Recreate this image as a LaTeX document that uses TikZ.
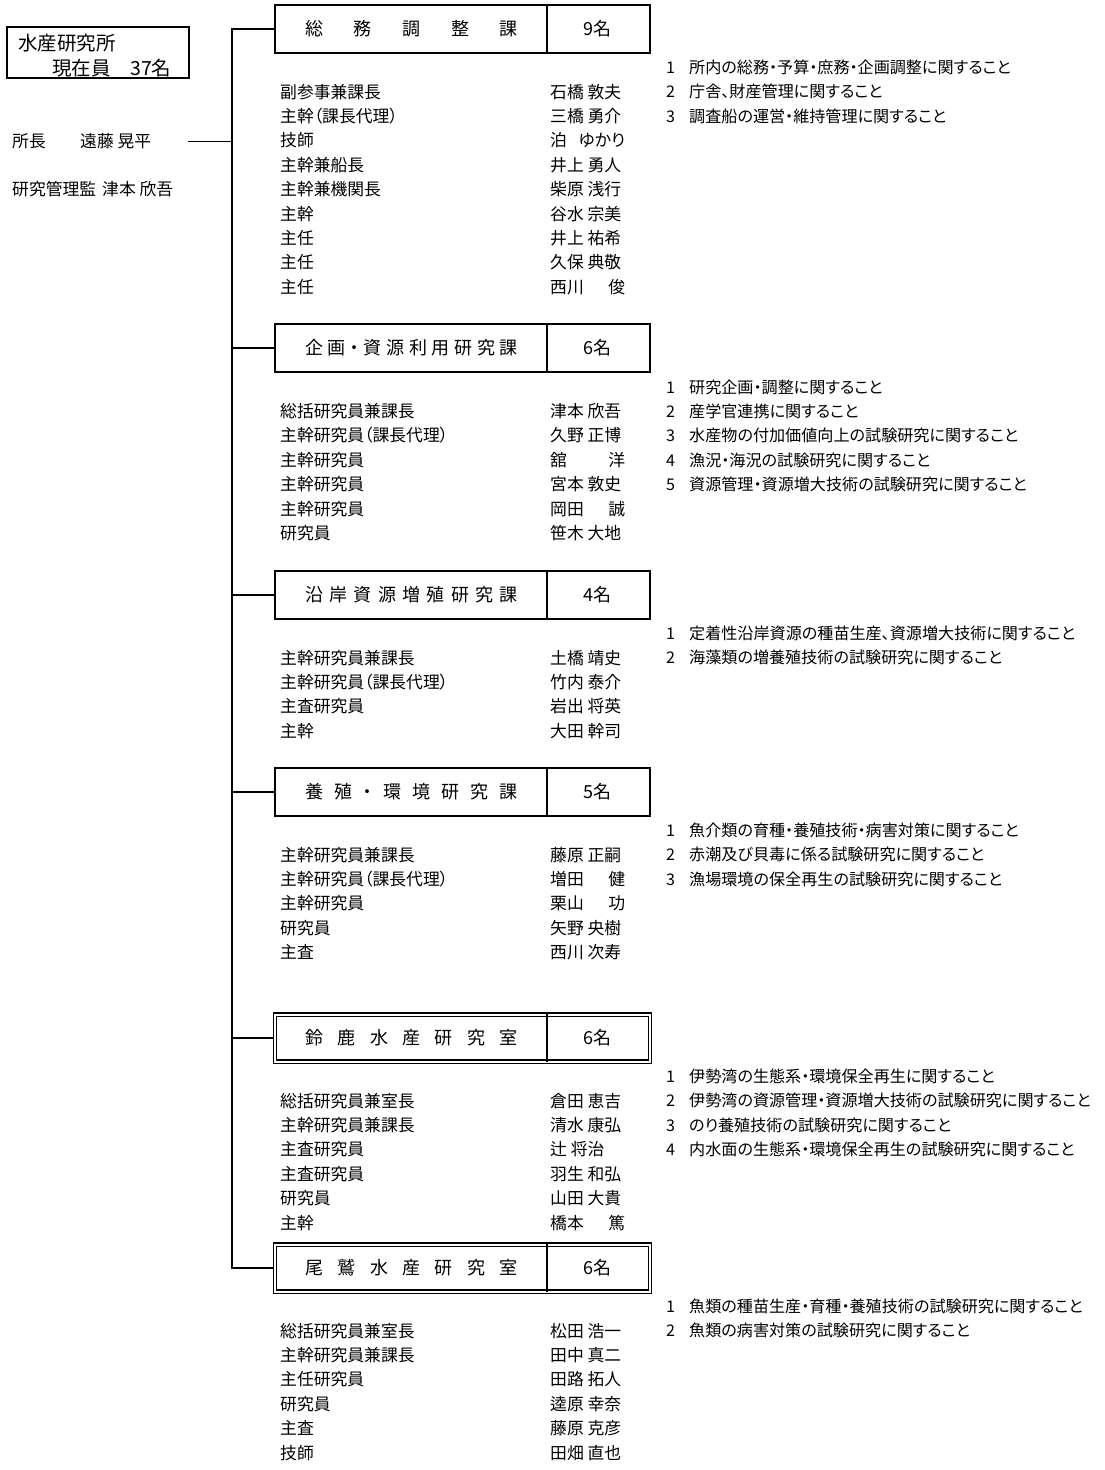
\documentclass[tikz,border=0pt]{standalone}
\usepackage{fontspec}
\setmainfont{Noto Sans CJK JP}[RawFeature={+palt}]
\usepackage{tikz}

\newcommand\rowfont{\fontsize{16.8}{20}\selectfont}
\newcommand\dutyfont{\fontsize{16.1}{20}\selectfont}
\newcommand\boxfont{\fontsize{18}{22}\selectfont}
\newcommand\labfont{\fontsize{19.5}{23}\selectfont}
\newcommand\spreadname[2]{\makebox[75pt][s]{#1\hfil #2}}

\tikzset{
  link/.style={line width=1.6pt, black},
  ticklink/.style={line width=1pt, black},
  deptbox/.style={draw, line width=1.6pt, minimum width=375pt, minimum height=48pt, inner sep=0pt},
  roombox/.style={draw, double, line width=1.4pt, double distance=2pt, minimum width=375pt, minimum height=47pt, inner sep=0pt},
  deptname/.style={inner sep=0pt, font=\boxfont},
  role/.style={anchor=west, inner sep=0pt, font=\rowfont, text height=14pt, text depth=3pt},
  who/.style={role},
  duty/.style={role, font=\dutyfont},
}

\begin{document}
\begin{tikzpicture}[x=1pt, y=-1pt]
  \useasboundingbox (0,0) rectangle (1104,1470);

  % lab and director
  \node[draw, line width=1.6pt, minimum width=182pt, minimum height=51pt] (lab) at (98,52.5) {};
  \node[anchor=west, inner sep=0pt, font=\labfont] (lab-name) at (18,43) {水産研究所};
  \node[anchor=west, inner sep=0pt, font=\labfont] (lab-staff) at (52,68) {現在員　37名};
  \node[role] (chief) at (12,141.5) {所長};
  \node[who] (chief-name) at (80,141.5) {遠藤 晃平};
  \node[role] (deputy) at (12,190) {研究管理監};
  \node[who] (deputy-name) at (102,190) {津本 欣吾};

  \coordinate (trunktop) at (232,29);
  \coordinate (trunkbot) at (232,1268);
  \coordinate (div) at (547,0);
  \coordinate (chief-tick) at (188,141.5);
  \draw[ticklink] (chief-tick) -- (chief-tick -| trunktop);

  % 総務調整課
  \node[deptbox] (soumu) at (462.5,29) {};
  \draw[link] (soumu.north -| div) -- (soumu.south -| div);
  \node[deptname] (soumu-name) at (411.5,29) {\makebox[213pt][s]{総\hfil 務\hfil 調\hfil 整\hfil 課}};
  \node[deptname] (soumu-count) at (597,29) {9名};
  \foreach \what [count=\i] in {所内の総務・予算・庶務・企画調整に関すること, 庁舎、財産管理に関すること, 調査船の運営・維持管理に関すること}
    \node[duty] (soumu-d\i) at (666,68+24.4*\i-24.4) {\makebox[23pt][l]{\i}\what};
  \foreach \role/\who [count=\i] in {副参事兼課長/石橋 敦夫, 主幹（課長代理）/三橋 勇介, 技師/\spreadname{泊}{ゆかり}, 主幹兼船長/井上 勇人, 主幹兼機関長/柴原 浅行, 主幹/谷水 宗美, 主任/井上 祐希, 主任/久保 典敬, 主任/\spreadname{西川}{俊}}
  {
    \node[role] (soumu-r\i) at (280,92.5+24.4*\i-24.4) {\role};
    \node[who] (soumu-n\i) at (550,92.5+24.4*\i-24.4) {\who};
  }

  % 企画・資源利用研究課
  \node[deptbox] (kikaku) at (462.5,348) {};
  \draw[link] (kikaku.north -| div) -- (kikaku.south -| div);
  \node[deptname] (kikaku-name) at (411.5,348) {\makebox[213pt][s]{企\hfil 画\hfil ・\hfil 資\hfil 源\hfil 利\hfil 用\hfil 研\hfil 究\hfil 課}};
  \node[deptname] (kikaku-count) at (597,348) {6名};
  \foreach \what [count=\i] in {研究企画・調整に関すること, 産学官連携に関すること, 水産物の付加価値向上の試験研究に関すること, 漁況・海況の試験研究に関すること, 資源管理・資源増大技術の試験研究に関すること}
    \node[duty] (kikaku-d\i) at (666,387.5+24.4*\i-24.4) {\makebox[23pt][l]{\i}\what};
  \foreach \role/\who [count=\i] in {総括研究員兼課長/津本 欣吾, 主幹研究員（課長代理）/久野 正博, 主幹研究員/\spreadname{舘}{洋}, 主幹研究員/宮本 敦史, 主幹研究員/\spreadname{岡田}{誠}, 研究員/笹木 大地}
  {
    \node[role] (kikaku-r\i) at (280,412+24.4*\i-24.4) {\role};
    \node[who] (kikaku-n\i) at (550,412+24.4*\i-24.4) {\who};
  }

  % 沿岸資源増殖研究課
  \node[deptbox] (engan) at (462.5,595) {};
  \draw[link] (engan.north -| div) -- (engan.south -| div);
  \node[deptname] (engan-name) at (411.5,595) {\makebox[213pt][s]{沿\hfil 岸\hfil 資\hfil 源\hfil 増\hfil 殖\hfil 研\hfil 究\hfil 課}};
  \node[deptname] (engan-count) at (597,595) {4名};
  \foreach \what [count=\i] in {定着性沿岸資源の種苗生産、資源増大技術に関すること, 海藻類の増養殖技術の試験研究に関すること}
    \node[duty] (engan-d\i) at (666,634+24.4*\i-24.4) {\makebox[23pt][l]{\i}\what};
  \foreach \role/\who [count=\i] in {主幹研究員兼課長/土橋 靖史, 主幹研究員（課長代理）/竹内 泰介, 主査研究員/岩出 将英, 主幹/大田 幹司}
  {
    \node[role] (engan-r\i) at (280,658.5+24.4*\i-24.4) {\role};
    \node[who] (engan-n\i) at (550,658.5+24.4*\i-24.4) {\who};
  }

  % 養殖・環境研究課
  \node[deptbox] (yousyoku) at (462.5,792) {};
  \draw[link] (yousyoku.north -| div) -- (yousyoku.south -| div);
  \node[deptname] (yousyoku-name) at (411.5,792) {\makebox[213pt][s]{養\hfil 殖\hfil ・\hfil 環\hfil 境\hfil 研\hfil 究\hfil 課}};
  \node[deptname] (yousyoku-count) at (597,792) {5名};
  \foreach \what [count=\i] in {魚介類の育種・養殖技術・病害対策に関すること, 赤潮及び貝毒に係る試験研究に関すること, 漁場環境の保全再生の試験研究に関すること}
    \node[duty] (yousyoku-d\i) at (666,831+24.4*\i-24.4) {\makebox[23pt][l]{\i}\what};
  \foreach \role/\who [count=\i] in {主幹研究員兼課長/藤原 正嗣, 主幹研究員（課長代理）/\spreadname{増田}{健}, 主幹研究員/\spreadname{栗山}{功}, 研究員/矢野 央樹, 主査/西川 次寿}
  {
    \node[role] (yousyoku-r\i) at (280,855.5+24.4*\i-24.4) {\role};
    \node[who] (yousyoku-n\i) at (550,855.5+24.4*\i-24.4) {\who};
  }

  % 鈴鹿水産研究室
  \node[roombox] (suzuka) at (462.5,1038) {};
  \draw[link] (suzuka.north -| div) -- (suzuka.south -| div);
  \node[deptname] (suzuka-name) at (411.5,1038) {\makebox[213pt][s]{鈴\hfil 鹿\hfil 水\hfil 産\hfil 研\hfil 究\hfil 室}};
  \node[deptname] (suzuka-count) at (597,1038) {6名};
  \foreach \what [count=\i] in {伊勢湾の生態系・環境保全再生に関すること, 伊勢湾の資源管理・資源増大技術の試験研究に関すること, のり養殖技術の試験研究に関すること, 内水面の生態系・環境保全再生の試験研究に関すること}
    \node[duty] (suzuka-d\i) at (666,1077+24.4*\i-24.4) {\makebox[23pt][l]{\i}\what};
  \foreach \role/\who [count=\i] in {総括研究員兼室長/倉田 恵吉, 主幹研究員兼課長/清水 康弘, 主査研究員/辻 将治, 主査研究員/羽生 和弘, 研究員/山田 大貴, 主幹/\spreadname{橋本}{篤}}
  {
    \node[role] (suzuka-r\i) at (280,1101.5+24.4*\i-24.4) {\role};
    \node[who] (suzuka-n\i) at (550,1101.5+24.4*\i-24.4) {\who};
  }

  % 尾鷲水産研究室
  \node[roombox] (owase) at (462.5,1268) {};
  \draw[link] (owase.north -| div) -- (owase.south -| div);
  \node[deptname] (owase-name) at (411.5,1268) {\makebox[213pt][s]{尾\hfil 鷲\hfil 水\hfil 産\hfil 研\hfil 究\hfil 室}};
  \node[deptname] (owase-count) at (597,1268) {6名};
  \foreach \what [count=\i] in {魚類の種苗生産・育種・養殖技術の試験研究に関すること, 魚類の病害対策の試験研究に関すること}
    \node[duty] (owase-d\i) at (666,1307+24.4*\i-24.4) {\makebox[23pt][l]{\i}\what};
  \foreach \role/\who [count=\i] in {総括研究員兼室長/松田 浩一, 主幹研究員兼課長/田中 真二, 主任研究員/田路 拓人, 研究員/逵原 幸奈, 主査/藤原 克彦, 技師/田畑 直也}
  {
    \node[role] (owase-r\i) at (280,1331.5+24.4*\i-24.4) {\role};
    \node[who] (owase-n\i) at (550,1331.5+24.4*\i-24.4) {\who};
  }

  % trunk and branches
  \draw[link] (soumu.west) -- (trunktop) -- (trunkbot) -- (owase.west);
  \foreach \dept in {kikaku, engan, yousyoku, suzuka}
    \draw[link] (\dept.west) -- (\dept.west -| trunktop);
\end{tikzpicture}
\end{document}
